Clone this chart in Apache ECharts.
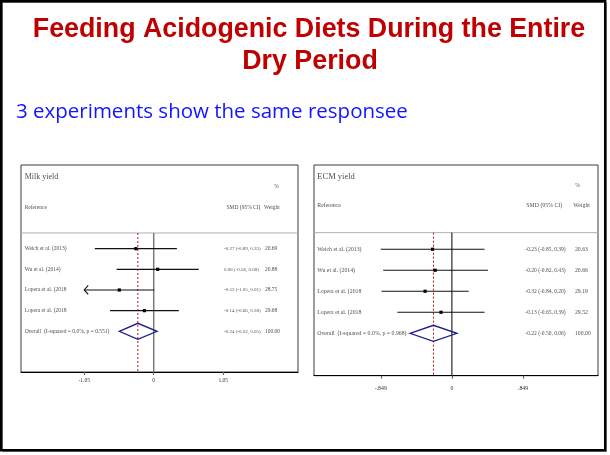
<!DOCTYPE html>
<html>
<head>
<meta charset="utf-8">
<script src="https://cdn.jsdelivr.net/npm/echarts@6/dist/echarts.min.js"></script>
<style>
  html, body { margin: 0; background: #fff; }
  #chart { width: 610px; height: 455px; }
</style>
</head>
<body>
<div id="chart"></div>
<script>
// --- data ---
const studies = ['Weich et al. (2013)', 'Wu et al. (2014)', 'Lopera et al. (2018', 'Lopera et al. (2018']

const milkEst = [-0.27, 0.06, -0.52, -0.14]
const milkLo = [-0.89, -0.56, -1.053, -0.66]
const milkHi = [0.35, 0.68, 0.01, 0.38]
const milkWeight = ['20.69', '20.88', '28.75', '29.68']
const milkOverall = [-0.24, -0.52, 0.05]
const milkOverallLabel = 'Overall  (I-squared = 0.0%, p = 0.551)'
const milkTicks = [-1.05, 0, 1.05]
const milkTickLabels = ['-1.05', '0', '1.05']

const ecmEst = [-0.23, -0.20, -0.32, -0.13]
const ecmLo = [-0.849, -0.82, -0.84, -0.65]
const ecmHi = [0.39, 0.43, 0.20, 0.39]
const ecmWeight = ['20.63', '20.66', '29.19', '29.52']
const ecmOverall = [-0.22, -0.50, 0.06]
const ecmOverallLabel = 'Overall  (I-squared = 0.0%, p = 0.968)'
const ecmTicks = [-0.849, 0, 0.849]
const ecmTickLabels = ['-.849', '0', '.849']

const overallWeight = '100.00'

// --- layout ---
const panels = [
  {
    title: 'Milk yield', est: milkEst, lo: milkLo, hi: milkHi, weight: milkWeight,
    overall: milkOverall, overallLabel: milkOverallLabel, ticks: milkTicks, tickLabels: milkTickLabels,
    grid: { left: 21, top: 165, width: 277, height: 207 },
    xMin: -2.005, xMax: 2.18, yMin: -3.05, yMax: 6.97, sep: 0.24,
    labelX: -1.95, ciX: 1.062, ciHeadX: 1.10, wX: 1.68, wHeadX: 1.666, pctX: 1.817,
    titleY: -2.49, pctY: -2.0, headY: -1.0,
    zeroColor: '#7a7a7a', zeroWidth: 1.5, font: 5.5, ciFont: 5, titleFont: 8, labelMargin: 6
  },
  {
    title: 'ECM yield', est: ecmEst, lo: ecmLo, hi: ecmHi, weight: ecmWeight,
    overall: ecmOverall, overallLabel: ecmOverallLabel, ticks: ecmTicks, tickLabels: ecmTickLabels,
    grid: { left: 314, top: 165, width: 284, height: 210.7 },
    xMin: -1.646, xMax: 1.744, yMin: -3.01, yMax: 7.02, sep: 0.21,
    labelX: -1.607, ciX: 0.877, ciHeadX: 0.889, wX: 1.469, wHeadX: 1.449, pctX: 1.469,
    titleY: -2.46, pctY: -2.03, headY: -1.06,
    zeroColor: '#000', zeroWidth: 1, font: 5.8, ciFont: 5.5, titleFont: 8.5, labelMargin: 10
  }
]

const fmt = v => v.toFixed(2)
const ciText = (e, l, h) => `${fmt(e)} (${fmt(l)}, ${fmt(h)})`
const serif = 'Liberation Serif'

const grids = []
const xAxes = []
const yAxes = []
const series = []

panels.forEach((p, i) => {
  const clipMin = p.ticks[0]
  grids.push({ ...p.grid, show: true, borderColor: '#3a3a3a', borderWidth: 1, backgroundColor: '#fff' })
  xAxes.push({
    type: 'value', gridIndex: i, min: p.xMin, max: p.xMax, position: 'bottom',
    axisLine: { onZero: false, lineStyle: { color: '#000', width: 1.2 } },
    axisTick: { customValues: p.ticks, length: 3, lineStyle: { color: '#666', width: 1.2 } },
    axisLabel: {
      customValues: p.ticks, margin: p.labelMargin,
      formatter: v => p.tickLabels[p.ticks.indexOf(v)],
      fontFamily: serif, fontSize: p.font, color: '#333'
    },
    splitLine: { show: false }
  })
  yAxes.push({ type: 'value', gridIndex: i, min: p.yMin, max: p.yMax, inverse: true, show: false })

  // separator, line of no effect, overall estimate line
  series.push({
    type: 'custom', xAxisIndex: i, yAxisIndex: i, silent: true,
    data: [[p.overall[0]]],
    renderItem: (params, api) => {
      const sL = api.coord([p.xMin, p.sep]), sR = api.coord([p.xMax, p.sep])
      const z0 = api.coord([0, p.sep]), z1 = api.coord([0, p.yMax])
      const o0 = api.coord([api.value(0), p.sep]), o1 = api.coord([api.value(0), p.yMax])
      return {
        type: 'group', children: [
          { type: 'line', shape: { x1: sL[0], y1: sL[1], x2: sR[0], y2: sR[1] }, style: { stroke: '#b0b0b0', lineWidth: 1 } },
          { type: 'line', shape: { x1: z0[0], y1: z0[1], x2: z1[0], y2: z1[1] }, style: { stroke: p.zeroColor, lineWidth: p.zeroWidth } },
          { type: 'line', shape: { x1: o0[0], y1: o0[1], x2: o1[0], y2: o1[1] }, style: { stroke: '#b01818', lineWidth: 1, lineDash: [2, 2] } }
        ]
      }
    }
  })

  // study confidence intervals and point estimates
  series.push({
    type: 'custom', xAxisIndex: i, yAxisIndex: i, silent: true,
    data: p.est.map((e, k) => [p.lo[k], p.hi[k], e, k + 1]),
    renderItem: (params, api) => {
      const lo = api.value(0), hi = api.value(1), e = api.value(2), r = api.value(3)
      const clipped = lo < clipMin
      const a = api.coord([clipped ? clipMin : lo, r])
      const b = api.coord([hi, r])
      const c = api.coord([e, r])
      const children = [
        { type: 'line', shape: { x1: a[0], y1: a[1], x2: b[0], y2: b[1] }, style: { stroke: '#111', lineWidth: 1.1 } },
        { type: 'rect', shape: { x: c[0] - 1.6, y: c[1] - 1.6, width: 3.2, height: 3.2 }, style: { fill: '#000' } }
      ]
      if (clipped) {
        children.push({
          type: 'polyline',
          shape: { points: [[a[0] + 4, a[1] - 4.5], [a[0], a[1]], [a[0] + 4, a[1] + 4.5]] },
          style: { stroke: '#111', lineWidth: 1.1, fill: null }
        })
      }
      return { type: 'group', children }
    }
  })

  // overall diamond
  series.push({
    type: 'custom', xAxisIndex: i, yAxisIndex: i, silent: true,
    data: [[p.overall[0], p.overall[1], p.overall[2], p.est.length + 1]],
    renderItem: (params, api) => {
      const e = api.value(0), lo = api.value(1), hi = api.value(2), r = api.value(3)
      const L = api.coord([lo, r]), R = api.coord([hi, r]), C = api.coord([e, r])
      return {
        type: 'polygon',
        shape: { points: [[L[0], L[1]], [C[0], C[1] - 8], [R[0], R[1]], [C[0], C[1] + 8]] },
        style: { stroke: '#1c1c8e', lineWidth: 1.3, fill: null }
      }
    }
  })

  // table text
  const txt = []
  const add = (x, y, name, size) => txt.push({ name, value: [x, y], label: { fontSize: size || p.font } })
  add(p.labelX, p.titleY, p.title, p.titleFont)
  add(p.pctX, p.pctY, '%')
  add(p.labelX, p.headY, 'Reference')
  add(p.ciHeadX, p.headY, 'SMD (95% CI)')
  add(p.wHeadX, p.headY, 'Weight')
  studies.forEach((s, k) => {
    add(p.labelX, k + 1, s)
    add(p.ciX, k + 1, ciText(p.est[k], p.lo[k], p.hi[k]), p.ciFont)
    add(p.wX, k + 1, p.weight[k])
  })
  const ro = p.est.length + 1
  add(p.labelX, ro, p.overallLabel)
  add(p.ciX, ro, ciText(p.overall[0], p.overall[1], p.overall[2]), p.ciFont)
  add(p.wX, ro, overallWeight)
  series.push({
    type: 'scatter', xAxisIndex: i, yAxisIndex: i, silent: true, symbolSize: 0,
    data: txt,
    label: {
      show: true, position: 'right', distance: 0, formatter: '{b}',
      fontFamily: serif, color: '#222', verticalAlign: 'middle'
    }
  })
})

const chart = echarts.init(document.getElementById('chart'))
chart.setOption({
  animation: false,
  backgroundColor: '#fff',
  grid: grids,
  xAxis: xAxes,
  yAxis: yAxes,
  series,
  graphic: [
    { type: 'rect', shape: { x: 2.5, y: 2.5, width: 604, height: 449 }, style: { stroke: '#9a9a9a', lineWidth: 1, fill: null } },
    { type: 'rect', shape: { x: 1.2, y: 1.2, width: 604, height: 449 }, style: { stroke: '#000', lineWidth: 2.4, fill: null } },
    {
      type: 'text', x: 309, y: 30,
      style: { text: 'Feeding Acidogenic Diets During the Entire', fill: '#c00000', font: 'bold 26.8px "Liberation Sans"', textAlign: 'center', textVerticalAlign: 'middle' }
    },
    {
      type: 'text', x: 310, y: 62,
      style: { text: 'Dry Period', fill: '#c00000', font: 'bold 26.8px "Liberation Sans"', textAlign: 'center', textVerticalAlign: 'middle' }
    },
    {
      type: 'text', x: 16, y: 112,
      style: { text: '3 experiments show the same responsee', fill: '#1414ff', font: '20.5px "Open Sans"', textAlign: 'left', textVerticalAlign: 'middle' }
    }
  ]
})
</script>
</body>
</html>
